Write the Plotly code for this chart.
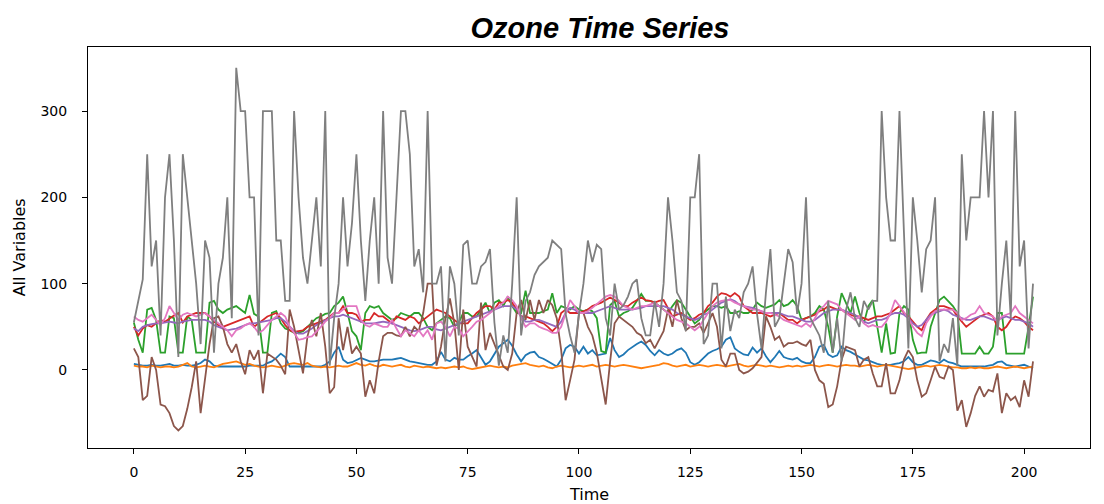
import plotly.graph_objects as go

time_index = list(range(203))

ozone = [7, 6, 5, 5, 6, 5, 5, 6, 7, 5,
         5, 6, 5, 5, 6, 8, 12, 10, 5, 4,
         4, 4, 4, 4, 4, 4, 5, 5, 5, 5,
         8, 10, 14, 19, 15, 4, 4, 4, 4, 4,
         4, 4, 4, 6, 10, 20, 27, 12, 8, 9,
         12, 14, 12, 10, 10, 11, 12, 12, 12, 13,
         14, 12, 10, 9, 8, 7, 6, 6, 10, 21,
         12, 10, 14, 12, 12, 16, 19, 23, 14, 6,
         10, 18, 27, 31, 35, 28, 18, 10, 17, 20,
         21, 15, 13, 10, 7, 4, 12, 25, 29, 27,
         19, 27, 19, 23, 17, 18, 19, 37, 23, 15,
         18, 23, 27, 30, 33, 29, 22, 17, 23, 19,
         17, 19, 23, 25, 20, 9, 6, 9, 14, 19,
         22, 24, 27, 35, 38, 25, 21, 18, 17, 26,
         20, 25, 16, 9, 15, 22, 15, 13, 12, 14,
         10, 8, 8, 15, 27, 29, 18, 15, 17, 27,
         23, 21, 18, 15, 12, 11, 9, 7, 6, 6,
         6, 7, 8, 10, 15, 9, 6, 6, 9, 11,
         10, 8, 12, 9, 8, 6, 4, 4, 4, 4,
         4, 4, 5, 6, 9, 10, 6, 5, 4, 5,
         6, 4, 2]

wind_speed = [5, 4, 4, 3, 5, 4, 3, 4, 4, 3,
              4, 6, 8, 4, 3, 4, 5, 4, 3, 5,
              7, 8, 9, 10, 8, 6, 7, 5, 4, 3,
              4, 5, 4, 3, 5, 7, 8, 7, 6, 8,
              5, 4, 3, 4, 3, 4, 5, 4, 4, 6,
              8, 6, 5, 7, 5, 4, 6, 5, 4, 5,
              6, 4, 3, 5, 4, 3, 4, 3, 2, 3,
              2, 3, 4, 3, 4, 2, 1, 2, 3, 4,
              5, 4, 3, 4, 3, 5, 6, 7, 8, 6,
              5, 4, 5, 3, 2, 4, 5, 4, 3, 4,
              5, 4, 5, 6, 4, 5, 6, 5, 4, 5,
              6, 5, 4, 3, 2, 3, 4, 5, 6, 8,
              7, 5, 4, 5, 6, 4, 5, 6, 5, 4,
              5, 6, 5, 4, 5, 6, 7, 5, 4, 5,
              6, 5, 4, 5, 4, 3, 4, 5, 4, 5,
              4, 5, 6, 5, 4, 5, 6, 5, 4, 5,
              6, 5, 5, 4, 5, 6, 5, 4, 5, 6,
              5, 4, 3, 2, 1, 2, 3, 4, 5, 4,
              5, 6, 5, 4, 3, 3, 2, 2, 3, 2,
              3, 2, 2, 3, 4, 3, 2, 3, 4, 3,
              2, 3, 4]

humidity = [55, 35, 20, 70, 72, 58, 20, 20, 62, 60,
            20, 20, 62, 58, 20, 20, 20, 78, 80, 70,
            66, 70, 72, 74, 70, 66, 87, 65, 62, 20,
            20, 66, 68, 54, 48, 46, 43, 43, 45, 50,
            54, 60, 62, 65, 66, 74, 78, 85, 66, 45,
            39, 23, 66, 74, 72, 74, 66, 62, 58, 60,
            66, 64, 62, 66, 66, 60, 50, 46, 54, 58,
            62, 60, 50, 55, 66, 66, 62, 62, 70, 78,
            66, 78, 81, 74, 85, 74, 66, 66, 92, 66,
            66, 66, 68, 70, 89, 66, 74, 72, 70, 74,
            70, 68, 70, 68, 60, 22, 20, 75, 80, 62,
            66, 68, 72, 80, 88, 80, 80, 78, 74, 70,
            66, 74, 81, 78, 70, 62, 54, 58, 66, 70,
            74, 74, 72, 74, 66, 66, 68, 66, 66, 70,
            78, 74, 72, 74, 76, 81, 74, 76, 81, 74,
            58, 60, 62, 66, 74, 70, 50, 20, 62, 89,
            78, 66, 85, 66, 54, 74, 81, 50, 20, 54,
            19, 20, 66, 74, 70, 35, 19, 20, 20, 50,
            66, 81, 85, 80, 74, 66, 19, 19, 19, 19,
            27, 19, 19, 27, 66, 66, 19, 19, 19, 19,
            19, 50, 85]

temp_sandburg = [50, 40, 48, 52, 50, 54, 58, 56, 60, 63,
                 66, 55, 62, 64, 66, 66, 66, 62, 56, 52,
                 50, 52, 54, 56, 58, 60, 62, 50, 54, 58,
                 62, 64, 66, 60, 52, 46, 44, 45, 46, 50,
                 52, 54, 56, 58, 62, 66, 66, 74, 66, 66,
                 64, 56, 58, 58, 66, 62, 62, 58, 54, 62,
                 60, 58, 62, 60, 54, 58, 62, 66, 70, 68,
                 66, 62, 58, 54, 54, 54, 60, 66, 70, 74,
                 74, 70, 78, 78, 81, 78, 70, 62, 62, 60,
                 58, 56, 54, 50, 45, 50, 66, 70, 66, 66,
                 66, 68, 70, 74, 76, 78, 81, 84, 81, 78,
                 74, 74, 78, 81, 84, 81, 80, 78, 80, 81,
                 72, 62, 64, 66, 62, 58, 60, 64, 66, 74,
                 78, 85, 89, 88, 85, 89, 85, 74, 70, 66,
                 66, 66, 64, 62, 64, 66, 62, 58, 58, 54,
                 58, 60, 62, 64, 68, 70, 74, 72, 70, 70,
                 66, 64, 62, 62, 60, 58, 60, 62, 62, 64,
                 66, 70, 74, 66, 62, 56, 50, 46, 58, 66,
                 70, 74, 74, 72, 70, 62, 56, 50, 54, 58,
                 62, 64, 66, 62, 50, 46, 50, 58, 62, 60,
                 56, 50, 46]

temp_el_monte = [48, 45, 50, 52, 53, 54, 54, 55, 56, 55,
                 54, 56, 57, 58, 58, 58, 58, 56, 52, 50,
                 48, 46, 47, 48, 50, 52, 54, 54, 55, 56,
                 57, 58, 60, 60, 56, 50, 45, 42, 42, 45,
                 48, 52, 55, 58, 60, 62, 62, 64, 62, 60,
                 58, 56, 54, 54, 54, 55, 56, 55, 54, 52,
                 50, 48, 46, 45, 46, 48, 50, 50, 47, 46,
                 48, 50, 52, 54, 56, 58, 60, 62, 64, 66,
                 68, 70, 72, 74, 74, 74, 70, 62, 56, 56,
                 58, 58, 56, 54, 52, 50, 56, 66, 72, 70,
                 66, 66, 66, 66, 68, 70, 72, 74, 72, 70,
                 70, 70, 70, 71, 72, 74, 74, 74, 74, 74,
                 72, 70, 66, 64, 62, 60, 58, 60, 64, 66,
                 70, 74, 78, 80, 82, 80, 76, 74, 73, 72,
                 70, 68, 66, 66, 66, 66, 64, 62, 62, 60,
                 58, 56, 56, 58, 62, 66, 68, 70, 70, 70,
                 68, 66, 64, 60, 56, 54, 56, 58, 58, 60,
                 64, 66, 66, 64, 60, 54, 50, 52, 58, 64,
                 66, 68, 70, 68, 64, 62, 60, 58, 58, 60,
                 62, 62, 60, 58, 58, 60, 62, 60, 58, 58,
                 56, 54, 50]

pressure_gradient = [25, 15, -35, -30, 15, 0, -40, -42, -50, -65,
                     -70, -65, -45, -20, 10, -50, -10, 30, 60, 62,
                     50, 30, 20, 30, 10, -5, 23, 12, 23, -27,
                     19, 15, 12, 5, -5, 70, 50, 23, -4, 39,
                     58, 39, 66, 27, -27, -20, 60, 23, 50, 19,
                     27, 19, -31, -12, -27, 10, 39, 43, 43, 40,
                     39, 50, 39, 50, 45, 66, 100, 100, 5, 27,
                     60, 83, 54, 0, 70, 27, 15, 4, 78, 23,
                     43, 30, 19, 4, 0, 19, 66, 81, 58, 81,
                     58, 81, 66, 81, 75, 60, 23, -35, -12, 12,
                     66, 66, 50, 40, 20, -12, -40, 10, 54, 62,
                     58, 54, 50, 43, 40, 31, 35, 25, 35, 45,
                     70, 50, 81, 60, 46, 50, 50, 54, 43, 55,
                     66, 50, 12, 4, 19, 19, 0, -4, -2, 2,
                     8, 15, 62, 50, 35, 39, 27, 31, 31, 33,
                     30, 28, 35, 0, -12, -16, -43, -40, -19, 12,
                     27, 25, 23, 4, 12, 15, -4, -19, -19, 8,
                     -27, -27, -12, 12, 23, 15, -12, -31, -27, -12,
                     4, -8, -10, 4, 0, -47, -35, -66, -50, -30,
                     -19, -31, -23, -25, -4, -50, -27, -35, -31, -43,
                     -12, -31, 10]

inversion_temp = [62, 58, 56, 60, 64, 58, 52, 60, 74, 66,
                  58, 64, 66, 64, 62, 64, 66, 62, 58, 54,
                  50, 46, 39, 46, 48, 52, 54, 50, 43, 46,
                  52, 58, 62, 66, 62, 50, 43, 35, 36, 38,
                  39, 44, 50, 56, 60, 66, 66, 70, 74, 74,
                  74, 58, 52, 50, 54, 52, 50, 50, 58, 48,
                  39, 46, 43, 39, 46, 39, 46, 35, 54, 56,
                  50, 39, 50, 48, 39, 44, 50, 56, 58, 62,
                  66, 70, 74, 78, 85, 81, 74, 60, 50, 54,
                  54, 50, 48, 46, 43, 43, 50, 66, 81, 74,
                  66, 66, 68, 72, 76, 80, 85, 87, 85, 80,
                  74, 72, 70, 72, 74, 74, 76, 78, 74, 70,
                  66, 62, 58, 56, 54, 50, 46, 50, 58, 66,
                  74, 78, 80, 81, 81, 78, 76, 74, 72, 70,
                  70, 68, 66, 66, 64, 62, 58, 56, 54, 52,
                  50, 54, 50, 60, 70, 74, 80, 78, 76, 70,
                  66, 62, 58, 62, 54, 50, 52, 50, 50, 56,
                  66, 81, 74, 68, 60, 50, 43, 39, 54, 62,
                  68, 70, 70, 70, 70, 66, 58, 60, 64, 66,
                  74, 66, 64, 62, 56, 62, 64, 66, 74, 66,
                  62, 58, 54]

visibility = [55, 80, 105, 250, 120, 150, 40, 200, 250, 150,
              15, 250, 200, 150, 100, 30, 150, 130, 20, 100,
              130, 200, 60, 350, 300, 300, 200, 200, 40, 300,
              300, 300, 150, 150, 80, 80, 300, 200, 130, 100,
              150, 200, 120, 300, 5, 60, 100, 200, 120, 170,
              250, 150, 80, 150, 200, 100, 300, 130, 100, 200,
              300, 300, 250, 120, 140, 90, 300, 100, 100, 120,
              10, 120, 100, 40, 145, 150, 100, 100, 120, 125,
              140, 55, 5, 40, 20, 100, 200, 40, 80, 90,
              110, 120, 125, 130, 150, 145, 140, 65, 40, 20,
              65, 100, 150, 125, 145, 140, 60, 40, 100, 70,
              75, 85, 100, 105, 60, 40, 40, 80, 50, 100,
              200, 150, 90, 80, 45, 200, 200, 250, 30, 40,
              100, 100, 25, 85, 45, 70, 60, 90, 100, 120,
              65, 25, 90, 140, 50, 60, 100, 140, 125, 65,
              100, 200, 60, 50, 40, 20, 80, 20, 60, 10,
              70, 90, 60, 50, 80, 70, 80, 80, 300, 200,
              150, 150, 300, 160, 25, 200, 150, 90, 140, 150,
              200, 10, 30, 20, 60, 5, 250, 150, 200, 200,
              200, 300, 200, 300, 40, 100, 150, 60, 300, 120,
              150, 25, 100]

series = [
    ("Ozone", ozone, "#1f77b4"),
    ("Wind speed", wind_speed, "#ff7f0e"),
    ("Humidity", humidity, "#2ca02c"),
    ("Temp Sandburg", temp_sandburg, "#d62728"),
    ("Temp El Monte", temp_el_monte, "#9467bd"),
    ("Pressure gradient", pressure_gradient, "#8c564b"),
    ("Inversion base temp", inversion_temp, "#e377c2"),
    ("Visibility", visibility, "#7f7f7f"),
]

fig = go.Figure()
for name, vals, color in series:
    fig.add_trace(go.Scatter(x=time_index[:len(vals)], y=vals, mode="lines", name=name,
                             line=dict(color=color, width=1.8)))

tick_font = dict(family="DejaVu Sans", size=14, color="black")
axis_common = dict(showline=True, linecolor="black", linewidth=1, mirror=True,
                   ticks="outside", ticklen=5, tickcolor="black", showgrid=False,
                   zeroline=False, tickfont=tick_font)

fig.update_layout(
    width=1104, height=504,
    margin=dict(l=88, r=14, t=47, b=56),
    paper_bgcolor="white", plot_bgcolor="white",
    showlegend=False,
    title=dict(text="<b><i>Ozone Time Series</i></b>", x=0.5435, xanchor="center",
               y=0.944, yanchor="middle",
               font=dict(family="Liberation Sans", size=29, color="black")),
    xaxis=dict(range=[-10.3, 214.8], tickvals=[0, 25, 50, 75, 100, 125, 150, 175, 200],
               ticklabelstandoff=6, **axis_common),
    yaxis=dict(range=[-90.4, 374.2], tickvals=[0, 100, 200, 300],
               ticklabelstandoff=12, **axis_common),
    annotations=[
        dict(text="Time", xref="paper", yref="paper", x=0.5, y=-0.115, xanchor="center",
             yanchor="middle", showarrow=False,
             font=dict(family="DejaVu Sans", size=16, color="black")),
        dict(text="All Variables", xref="paper", yref="paper", x=-0.068, y=0.5,
             xanchor="center", yanchor="middle", textangle=-90, showarrow=False,
             font=dict(family="DejaVu Sans", size=16, color="black")),
    ],
)

fig.write_html("out.html")
